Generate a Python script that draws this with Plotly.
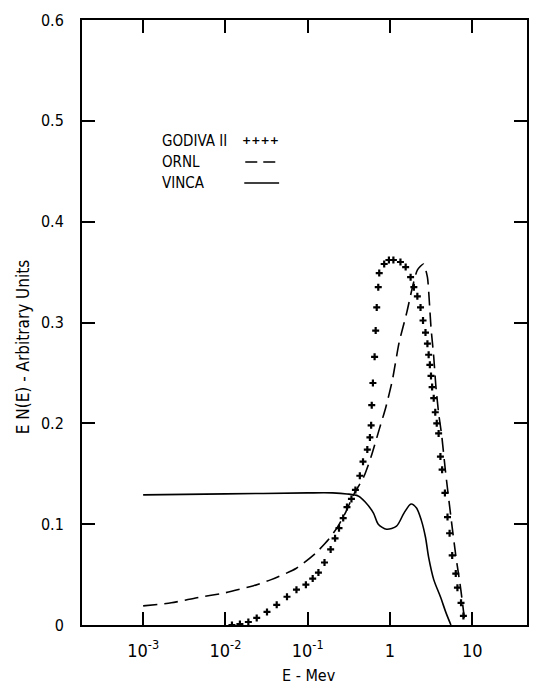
import plotly.graph_objects as go

# ---------------- data ----------------
godiva_E = [0.012, 0.015, 0.019, 0.024, 0.032, 0.042, 0.056, 0.073, 0.095, 0.115,
            0.135, 0.16, 0.19, 0.215, 0.24, 0.27, 0.30, 0.34, 0.38, 0.43,
            0.47, 0.53, 0.57, 0.59, 0.60, 0.62, 0.65, 0.67, 0.69, 0.72,
            0.74, 0.85, 0.97, 1.1, 1.34, 1.55, 1.78, 1.95, 2.15, 2.35,
            2.52, 2.7, 2.85, 2.95, 3.05, 3.15, 3.25, 3.4, 3.55, 3.7,
            3.9, 4.1, 4.3, 4.65, 5.0, 5.3, 5.7, 6.3, 6.6, 7.3, 7.8]
godiva_v = [0.000, 0.001, 0.003, 0.007, 0.013, 0.020, 0.028, 0.035, 0.040, 0.046,
            0.052, 0.062, 0.075, 0.086, 0.096, 0.106, 0.117, 0.125, 0.134, 0.148,
            0.162, 0.174, 0.186, 0.198, 0.218, 0.240, 0.266, 0.292, 0.315, 0.335,
            0.349, 0.358, 0.362, 0.362, 0.360, 0.355, 0.345, 0.335, 0.326, 0.315,
            0.302, 0.290, 0.279, 0.268, 0.258, 0.247, 0.236, 0.225, 0.211, 0.200,
            0.190, 0.167, 0.154, 0.131, 0.107, 0.091, 0.069, 0.051, 0.037, 0.022, 0.009]

ornl_E = [0.001, 0.0022, 0.0045, 0.01, 0.022, 0.036, 0.072, 0.124, 0.18, 0.23,
          0.29, 0.36, 0.48, 0.59, 0.74, 0.89, 1.07, 1.29, 1.6, 1.85,
          2.15, 2.55, 2.85, 3.0, 3.15, 3.4, 3.6, 3.9, 4.25, 4.7,
          5.5, 6.3, 7.2, 8.0]
ornl_v = [0.019, 0.022, 0.027, 0.032, 0.039, 0.045, 0.056, 0.071, 0.085, 0.097,
          0.112, 0.129, 0.147, 0.167, 0.194, 0.216, 0.243, 0.280, 0.310, 0.333,
          0.352, 0.358, 0.345, 0.322, 0.295, 0.266, 0.238, 0.210, 0.188, 0.154,
          0.107, 0.069, 0.037, 0.007]

vinca_E = [0.001, 0.01, 0.1, 0.2, 0.3, 0.41, 0.5, 0.63, 0.72, 0.91,
           1.2, 1.48, 1.8, 2.1, 2.4, 2.7, 2.95, 3.4, 4.1, 4.8, 5.5]
vinca_v = [0.129, 0.130, 0.131, 0.131, 0.130, 0.128, 0.122, 0.111, 0.100, 0.095,
           0.098, 0.111, 0.120, 0.116, 0.104, 0.087, 0.067, 0.045, 0.028, 0.012, 0.0]

x_tickvals = [1e-3, 1e-2, 1e-1, 1, 10]
x_ticktext = ["10<sup>-3</sup>", "10<sup>-2</sup>", "10<sup>-1</sup>", "1", "10"]
y_tickvals = [0, 0.1, 0.2, 0.3, 0.4, 0.5, 0.6]
y_ticktext = ["0", "0.1", "0.2", "0.3", "0.4", "0.5", "0.6"]

series_names = ["GODIVA II", "ORNL", "VINCA"]

FONT = "DejaVu Sans Condensed, DejaVu Sans, sans-serif"

fig = go.Figure()
fig.add_trace(go.Scatter(x=ornl_E, y=ornl_v, mode="lines", name=series_names[1],
                         line=dict(color="black", width=1.6, dash="14px,7px", shape="spline", smoothing=0.6)))
fig.add_trace(go.Scatter(x=vinca_E, y=vinca_v, mode="lines", name=series_names[2],
                         line=dict(color="black", width=1.6, shape="spline", smoothing=0.8)))
fig.add_trace(go.Scatter(x=godiva_E, y=godiva_v, mode="markers", name=series_names[0],
                         marker=dict(symbol="cross-thin", size=5, color="black",
                                     line=dict(color="black", width=2.2))))

# plot area geometry (pixels)
L, R, T, B = 82, 5, 20, 66
W, H = 534, 691
pw, ph = W - L - R, H - T - B

fig.update_layout(
    width=W, height=H,
    margin=dict(l=L, r=R, t=T, b=B, pad=0),
    paper_bgcolor="white", plot_bgcolor="white",
    showlegend=False,
    font=dict(family=FONT, color="black", size=16),
)
fig.update_xaxes(type="log", range=[-3.743, 1.665],
                 tickvals=x_tickvals, ticktext=x_ticktext,
                 showline=True, linewidth=2, linecolor="black", mirror="ticks",
                 ticks="inside", ticklen=13, tickwidth=1.5, tickcolor="black",
                 showgrid=False, zeroline=False, ticklabelstandoff=8,
                 tickfont=dict(family=FONT, size=18, color="black"))
fig.update_yaxes(range=[0, 0.6],
                 tickvals=y_tickvals, ticktext=y_ticktext,
                 showline=True, linewidth=2, linecolor="black", mirror="ticks",
                 ticks="inside", ticklen=13, tickwidth=1.5, tickcolor="black",
                 showgrid=False, zeroline=False, ticklabelstandoff=13,
                 tickfont=dict(family=FONT, size=16, color="black"))

def px_x(px):
    return (px - L) / pw

def px_y(py):
    return (H - B - py) / ph

# axis titles
fig.add_annotation(text="E - Mev", xref="paper", yref="paper",
                   x=px_x(310), y=px_y(676), showarrow=False,
                   font=dict(family=FONT, size=16, color="black"), xanchor="center", yanchor="middle")
fig.add_annotation(text="E N(E) - Arbitrary Units", xref="paper", yref="paper",
                   x=px_x(23), y=px_y(347), showarrow=False, textangle=-90,
                   font=dict(family=FONT, size=17, color="black"), xanchor="center", yanchor="middle")

# legend block (text + samples)
leg_y = [141, 162, 183]
for name, yy in zip(series_names, leg_y):
    fig.add_annotation(text=name, xref="paper", yref="paper",
                       x=px_x(160), y=px_y(yy), showarrow=False,
                       font=dict(family=FONT, size=15, color="black"), xanchor="left", yanchor="middle")
fig.add_annotation(text="<b>++++</b>", xref="paper", yref="paper",
                   x=px_x(241), y=px_y(leg_y[0]), showarrow=False,
                   font=dict(family="DejaVu Sans", size=11, color="black"), xanchor="left", yanchor="middle")
fig.add_shape(type="line", xref="paper", yref="paper",
              x0=px_x(246), x1=px_x(279), y0=px_y(leg_y[1]), y1=px_y(leg_y[1]),
              line=dict(color="black", width=1.6, dash="12px,6px"))
fig.add_shape(type="line", xref="paper", yref="paper",
              x0=px_x(245), x1=px_x(280), y0=px_y(leg_y[2]), y1=px_y(leg_y[2]),
              line=dict(color="black", width=1.6))

fig.write_html("out.html")
